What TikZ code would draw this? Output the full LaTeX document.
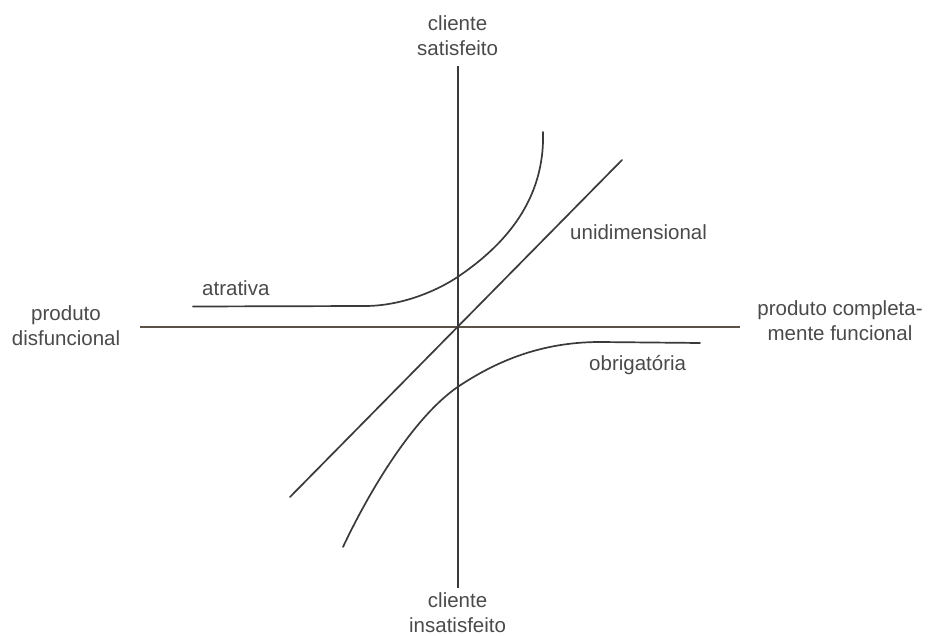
\documentclass[tikz,border=0pt]{standalone}
\usepackage{fontspec}
\setmainfont{Liberation Sans}
\definecolor{txt}{HTML}{4A4A4A}
\definecolor{ln}{HTML}{3A3A3A}
\definecolor{axh}{HTML}{5A5246}
\begin{document}
\begin{tikzpicture}[x=1pt,y=-1pt,
  lbl/.style={font=\fontsize{20.5}{25}\selectfont, text=txt, inner sep=0pt, align=center},
  curve/.style={draw=ln, line width=1.7pt, line cap=round},
  axis/.style={line width=1.8pt}]
\useasboundingbox (0,0) rectangle (931,636);
% axis ends
\coordinate (L) at (140,327.3);
\coordinate (R) at (740,327.3);
\coordinate (T) at (457.6,66);
\coordinate (B) at (457.6,588);
\draw[axis, draw=axh] (L) -- (R);
\draw[axis, draw=ln] (T) -- (B);
% unidimensional
\coordinate (U1) at (290,497);
\coordinate (U2) at (622,160);
\draw[curve] (U1) -- (U2);
% atrativa curve
\coordinate (A0) at (193,306.5);
\coordinate (A1) at (365,306);
\coordinate (A2) at (457.6,277);
\coordinate (A3) at (543,132);
\draw[curve] (A0) -- (A1) .. controls (400,306) and (435,292) .. (A2)
  .. controls (505,245) and (545,200) .. (A3);
% obrigatoria curve
\coordinate (O0) at (343,547);
\coordinate (O1) at (457.6,387);
\coordinate (O2) at (600,342);
\coordinate (O3) at (700,343);
\draw[curve] (O0) .. controls (365,500) and (410,420) .. (O1)
  .. controls (495,362) and (540,342) .. (O2) -- (O3);
% labels
\node[lbl] (ts) at (457.6,36) {cliente\\satisfeito};
\node[lbl] (bi) at (457.6,613) {cliente\\insatisfeito};
\node[lbl] (lp) at (66,326) {produto\\disfuncional};
\node[lbl] (rp) at (840,321) {produto completa-\\mente funcional};
\node[lbl, anchor=base west] (at) at (202,295) {atrativa};
\node[lbl, anchor=base west] (un) at (570,240) {unidimensional};
\node[lbl, anchor=base west] (ob) at (589,370) {obrigatória};
\end{tikzpicture}
\end{document}
